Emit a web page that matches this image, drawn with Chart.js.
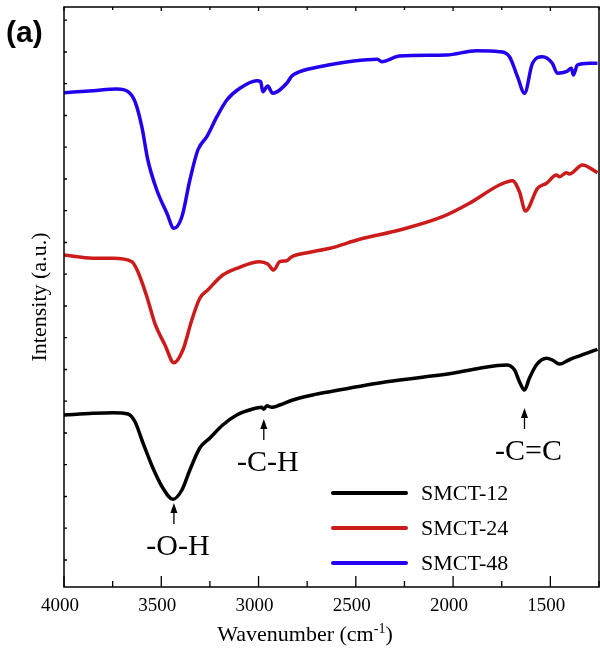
<!DOCTYPE html>
<html>
<head>
<meta charset="utf-8">
<title>FTIR</title>
<script src="https://cdn.jsdelivr.net/npm/chart.js@4.4.1/dist/chart.umd.min.js"></script>
<style>
  html, body { margin: 0; padding: 0; background: #fff; }
  canvas { display: block; }
</style>
</head>
<body>
<canvas id="ftirChart" width="600" height="648"></canvas>
<script>
// 파수(cm-1) / 세기(a.u., 곡선별 오프셋 포함)
const wn12 = [4000, 3851, 3748, 3671, 3635, 3594, 3543, 3492, 3440, 3394, 3353, 3302, 3250, 3184, 3112, 3030, 2983, 2973, 2958, 2932, 2891, 2824, 2722, 2634, 2342, 2003, 1864, 1726, 1684, 1659, 1633, 1608, 1572, 1520, 1490, 1453, 1412, 1387, 1361, 1315, 1258];
const smct12 = [172, 173.7, 174.3, 173, 165.3, 144, 119, 99, 87.7, 97, 117, 139, 149, 162, 172, 178, 179.7, 177.7, 181.3, 179.7, 182, 187, 192, 195.3, 205.3, 213.7, 218.7, 222, 217, 205.3, 197, 208.7, 222, 228.7, 227, 223, 226.3, 228.7, 230.3, 233.7, 237.7];

const wn24 = [4000, 3851, 3748, 3651, 3620, 3574, 3533, 3481, 3435, 3389, 3343, 3302, 3261, 3184, 3112, 2994, 2953, 2922, 2891, 2855, 2829, 2737, 2634, 2480, 2275, 2054, 1916, 1762, 1695, 1659, 1628, 1566, 1520, 1469, 1453, 1418, 1402, 1335, 1258];
const smct24 = [332, 328.7, 328.7, 325.3, 315.3, 290.3, 263.7, 242, 224.3, 237, 267, 288.7, 297, 312, 318.7, 325.3, 323, 317, 325.3, 326.3, 330.3, 334.7, 338.7, 347.7, 357, 370.3, 383.7, 402, 406.3, 395.3, 376, 398.7, 403.7, 412, 410.3, 414.3, 413, 422, 414.3];

const wn48 = [4000, 3851, 3728, 3671, 3635, 3600, 3569, 3523, 3471, 3435, 3394, 3353, 3312, 3266, 3214, 3163, 3096, 3009, 2989, 2978, 2953, 2927, 2855, 2829, 2788, 2686, 2388, 2367, 2275, 2034, 1880, 1762, 1710, 1669, 1633, 1592, 1541, 1490, 1464, 1418, 1392, 1382, 1361, 1300, 1258];
const smct48 = [494.3, 496.3, 498, 495.3, 485.3, 460.3, 427, 397, 373.7, 358.7, 370.3, 407, 437, 450.3, 470.3, 487, 498.7, 506.3, 505.3, 495.3, 501, 493.7, 503.7, 511, 515.3, 520.3, 527.7, 525.3, 531, 532, 536.3, 535.3, 530.3, 510.3, 493.7, 523.7, 530.3, 523.7, 513.7, 515.3, 518.7, 512, 522, 523.7, 523.7];

const seriesNames = ['SMCT-12', 'SMCT-24', 'SMCT-48'];
const seriesColors = ['#000000', '#cc1b1b', '#2200ee'];

// 축 눈금
const xTicks = [4000, 3500, 3000, 2500, 2000, 1500];
const xMinorTicks = [3750, 3250, 2750, 2250, 1750, 1250];
const yTicks = [27, 58.8, 90.5, 122.3, 154, 185.8, 217.5, 249.3, 281, 312.8, 344.5, 376.3, 408, 439.8, 471.5, 503.3, 535, 566.8];

// 피크 표시 (파수, 화살표 끝 세기, 라벨)
const peakWn = [3435, 2973, 1633];
const peakTip = [84, 168, 179];
const peakText = ['-O-H', '-C-H', '-C=C'];

function toPoints(xs, ys) {
  return xs.map((x, i) => ({ x: x, y: ys[i] }));
}

const serif = '"Liberation Serif", "Times New Roman", serif';

// 테두리, 안쪽 눈금, 피크 화살표, 범례, 축 제목, (a) 표시
const decorPlugin = {
  id: 'decor',
  afterDraw(chart) {
    const ctx = chart.ctx;
    const a = chart.chartArea;
    const xs = chart.scales.x;
    const ys = chart.scales.y;
    ctx.save();
    ctx.strokeStyle = '#000';
    ctx.lineWidth = 1.5;
    ctx.strokeRect(a.left, a.top, a.right - a.left, a.bottom - a.top);

    ctx.lineWidth = 1.3;
    ctx.beginPath();
    xTicks.forEach(v => {
      const px = xs.getPixelForValue(v);
      ctx.moveTo(px, a.bottom); ctx.lineTo(px, a.bottom - 11);
      ctx.moveTo(px, a.top); ctx.lineTo(px, a.top + 4);
    });
    xMinorTicks.forEach(v => {
      const px = xs.getPixelForValue(v);
      if (px > a.right) return;
      ctx.moveTo(px, a.bottom); ctx.lineTo(px, a.bottom - 6);
      ctx.moveTo(px, a.top); ctx.lineTo(px, a.top + 3);
    });
    yTicks.forEach(v => {
      const py = ys.getPixelForValue(v);
      ctx.moveTo(a.left, py); ctx.lineTo(a.left + 3, py);
    });
    ctx.stroke();

    // 피크 화살표
    ctx.fillStyle = '#000';
    ctx.font = '30px ' + serif;
    ctx.textAlign = 'center';
    ctx.textBaseline = 'middle';
    peakWn.forEach((w, i) => {
      const px = xs.getPixelForValue(w);
      const tip = ys.getPixelForValue(peakTip[i]);
      ctx.lineWidth = 1.3;
      ctx.beginPath();
      ctx.moveTo(px, tip + 4); ctx.lineTo(px, tip + 21);
      ctx.stroke();
      ctx.beginPath();
      ctx.moveTo(px, tip); ctx.lineTo(px - 3.5, tip + 10); ctx.lineTo(px + 3.5, tip + 10);
      ctx.closePath();
      ctx.fill();
      ctx.fillText(peakText[i], px + 4, tip + 44);
    });

    // 범례
    ctx.textAlign = 'left';
    ctx.font = '22px ' + serif;
    chart.data.datasets.forEach((ds, i) => {
      const y = 493 + i * 35;
      ctx.strokeStyle = ds.borderColor;
      ctx.lineWidth = 4;
      ctx.lineCap = 'round';
      ctx.beginPath();
      ctx.moveTo(333, y); ctx.lineTo(406, y);
      ctx.stroke();
      ctx.fillStyle = '#000';
      ctx.fillText(ds.label, 421, y + 1);
    });

    // x축 제목 (위첨자 포함)
    const main = 'Wavenumber (cm';
    const sup = '-1';
    const tail = ')';
    ctx.font = '22px ' + serif;
    const wMain = ctx.measureText(main).width;
    const wTail = ctx.measureText(tail).width;
    ctx.font = '14px ' + serif;
    const wSup = ctx.measureText(sup).width;
    let tx = 305 - (wMain + wSup + wTail) / 2;
    ctx.textBaseline = 'alphabetic';
    ctx.font = '22px ' + serif;
    ctx.fillText(main, tx, 641);
    tx += wMain;
    ctx.font = '14px ' + serif;
    ctx.fillText(sup, tx, 633);
    tx += wSup;
    ctx.font = '22px ' + serif;
    ctx.fillText(tail, tx, 641);

    ctx.textBaseline = 'middle';
    ctx.font = 'bold 30px "Liberation Sans", Arial, sans-serif';
    ctx.fillText('(a)', 6, 34);
    ctx.restore();
  }
};

new Chart(document.getElementById('ftirChart'), {
  type: 'line',
  data: {
    datasets: [
      { label: seriesNames[0], data: toPoints(wn12, smct12), borderColor: seriesColors[0] },
      { label: seriesNames[1], data: toPoints(wn24, smct24), borderColor: seriesColors[1] },
      { label: seriesNames[2], data: toPoints(wn48, smct48), borderColor: seriesColors[2] }
    ]
  },
  options: {
    responsive: false,
    animation: false,
    layout: { padding: { top: 7, right: 1, left: 0, bottom: 0 } },
    elements: {
      point: { radius: 0 },
      line: { borderWidth: 3.5, cubicInterpolationMode: 'monotone', fill: false }
    },
    plugins: {
      legend: { display: false },
      tooltip: { enabled: false }
    },
    scales: {
      x: {
        type: 'linear',
        reverse: true,
        min: 1250,
        max: 4000,
        grid: { display: false, drawTicks: false },
        border: { display: false },
        afterBuildTicks: s => { s.ticks = xTicks.map(v => ({ value: v })); },
        afterFit: s => { s.height = 61; },
        ticks: {
          padding: 8,
          maxRotation: 0,
          labelOffset: -4,
          color: '#000',
          font: { family: serif, size: 19 },
          callback: v => String(v)
        }
      },
      y: {
        type: 'linear',
        min: 0,
        max: 580,
        grid: { display: false, drawTicks: false },
        border: { display: false },
        afterBuildTicks: s => { s.ticks = yTicks.map(v => ({ value: v })); },
        afterFit: s => { s.width = 64; },
        ticks: { display: false },
        title: {
          display: true,
          text: 'Intensity (a.u.)',
          color: '#000',
          font: { family: serif, size: 22 },
          padding: { top: 27, bottom: 0 }
        }
      }
    }
  },
  plugins: [decorPlugin]
});
</script>
</body>
</html>
